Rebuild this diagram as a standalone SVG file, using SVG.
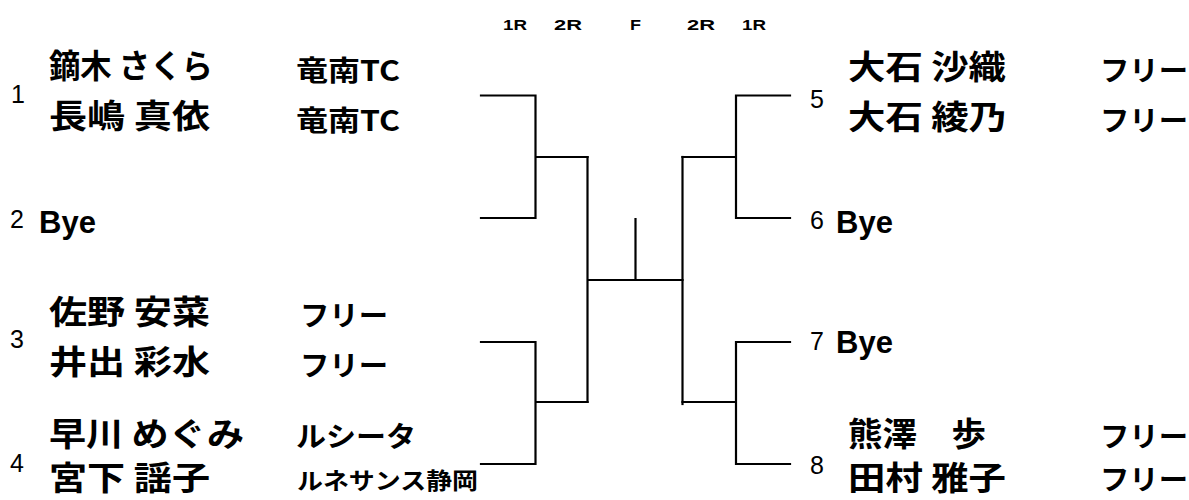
<svg xmlns="http://www.w3.org/2000/svg" width="1189" height="500" viewBox="0 0 1189 500">
<style>
.ln{fill:none;stroke:#000;stroke-width:2.2;stroke-linecap:square}
.nm{font-family:"Noto Sans CJK JP",sans-serif;font-weight:bold;font-size:32.5px;fill:#000}
.cl{font-family:"Noto Sans CJK JP",sans-serif;font-weight:bold;font-size:28px;fill:#000}
.cs{font-family:"Noto Sans CJK JP",sans-serif;font-weight:bold;font-size:23px;fill:#000}
.no{font-family:"Liberation Sans",Arial,sans-serif;font-size:25px;fill:#000}
.bye{font-family:"Liberation Sans",Arial,sans-serif;font-weight:bold;font-size:31px;fill:#000}
.hd{font-family:"Liberation Sans",Arial,sans-serif;font-weight:bold;font-size:15px;fill:#000}
</style>
<rect width="1189" height="500" fill="#fff"/>
<g id="headers">
<text class="hd" x="503" y="30" textLength="24" lengthAdjust="spacingAndGlyphs">1R</text>
<text class="hd" x="554" y="30" textLength="28" lengthAdjust="spacingAndGlyphs">2R</text>
<text class="hd" x="630" y="30" textLength="11" lengthAdjust="spacingAndGlyphs">F</text>
<text class="hd" x="687" y="30" textLength="28" lengthAdjust="spacingAndGlyphs">2R</text>
<text class="hd" x="742" y="30" textLength="24" lengthAdjust="spacingAndGlyphs">1R</text>
</g>
<g id="connectors">
<path class="ln" d="M481 95.5H535.5V218H481M535.5 157H587.5"/>
<path class="ln" d="M481 342H535.5V464H481M535.5 402H587.5"/>
<path class="ln" d="M587.5 157V402M587.5 280H682.5M635.5 219V280"/>
<path class="ln" d="M790 95.5H736V218H790M736 157H682.5"/>
<path class="ln" d="M790 342H736V464H790M736 402H682.5"/>
<path class="ln" d="M682.5 157V404"/>
</g>
<g id="entry1">
<text class="no" x="11" y="103">1</text>
<text class="nm" x="49" y="78" textLength="164" lengthAdjust="spacingAndGlyphs">鏑木 さくら</text>
<text class="nm" x="49" y="128" textLength="161" lengthAdjust="spacingAndGlyphs">長嶋 真依</text>
<text class="cl" x="296" y="81" textLength="104" lengthAdjust="spacingAndGlyphs">竜南TC</text>
<text class="cl" x="296" y="131" textLength="104" lengthAdjust="spacingAndGlyphs">竜南TC</text>
</g>
<g id="entry2">
<text class="no" x="10" y="228">2</text>
<text class="bye" x="39" y="233">Bye</text>
</g>
<g id="entry3">
<text class="no" x="10" y="348">3</text>
<text class="nm" x="49" y="324" textLength="161" lengthAdjust="spacingAndGlyphs">佐野 安菜</text>
<text class="nm" x="49" y="374" textLength="161" lengthAdjust="spacingAndGlyphs">井出 彩水</text>
<text class="cl" x="300" y="326" textLength="88" lengthAdjust="spacingAndGlyphs">フリー</text>
<text class="cl" x="300" y="376" textLength="88" lengthAdjust="spacingAndGlyphs">フリー</text>
</g>
<g id="entry4">
<text class="no" x="10" y="472">4</text>
<text class="nm" x="49" y="446" textLength="195" lengthAdjust="spacingAndGlyphs">早川 めぐみ</text>
<text class="nm" x="49" y="490" textLength="161" lengthAdjust="spacingAndGlyphs">宮下 謡子</text>
<text class="cl" x="296" y="447" textLength="120" lengthAdjust="spacingAndGlyphs">ルシータ</text>
<text class="cs" x="297" y="489" textLength="181" lengthAdjust="spacingAndGlyphs">ルネサンス静岡</text>
</g>
<g id="entry5">
<text class="no" x="810" y="108">5</text>
<text class="nm" x="848" y="79" textLength="158" lengthAdjust="spacingAndGlyphs">大石 沙織</text>
<text class="nm" x="848" y="129" textLength="158" lengthAdjust="spacingAndGlyphs">大石 綾乃</text>
<text class="cl" x="1100" y="81" textLength="88" lengthAdjust="spacingAndGlyphs">フリー</text>
<text class="cl" x="1100" y="131" textLength="88" lengthAdjust="spacingAndGlyphs">フリー</text>
</g>
<g id="entry6">
<text class="no" x="810" y="229">6</text>
<text class="bye" x="836" y="233">Bye</text>
</g>
<g id="entry7">
<text class="no" x="810" y="350">7</text>
<text class="bye" x="836" y="353">Bye</text>
</g>
<g id="entry8">
<text class="no" x="810" y="474">8</text>
<text class="nm" x="848" y="446" textLength="138" lengthAdjust="spacingAndGlyphs">熊澤　歩</text>
<text class="nm" x="848" y="490" textLength="158" lengthAdjust="spacingAndGlyphs">田村 雅子</text>
<text class="cl" x="1100" y="447" textLength="88" lengthAdjust="spacingAndGlyphs">フリー</text>
<text class="cl" x="1100" y="490" textLength="88" lengthAdjust="spacingAndGlyphs">フリー</text>
</g>
</svg>
